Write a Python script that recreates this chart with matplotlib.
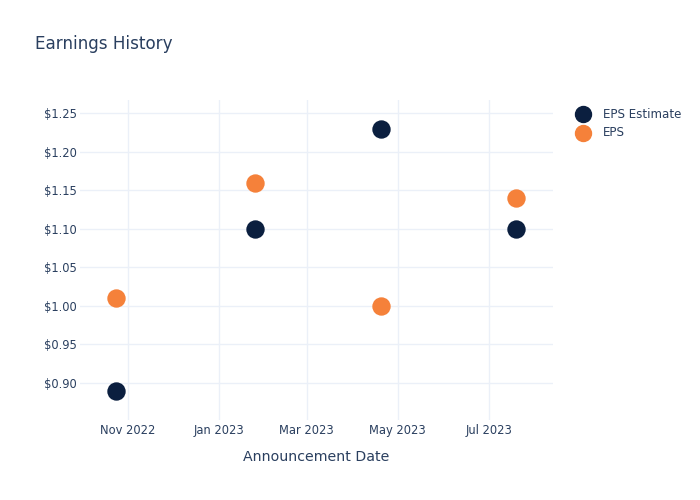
import matplotlib
matplotlib.use("Agg")
import matplotlib.pyplot as plt
import matplotlib.dates as mdates
from matplotlib.lines import Line2D
import datetime as dt

dates = ["2022-10-24", "2023-01-25", "2023-04-20", "2023-07-19"]
eps_estimate = [0.89, 1.10, 1.23, 1.10]
eps_actual = [1.01, 1.16, 1.00, 1.14]
series_names = ["EPS Estimate", "EPS"]
colors = ["#0b1f3f", "#f5813a"]

x = [dt.datetime.strptime(d, "%Y-%m-%d") for d in dates]

plt.rcParams['font.family'] = ['DejaVu Sans']
W, H = 700, 500
fig = plt.figure(figsize=(7, 5), dpi=100)
ax = fig.add_axes([80 / W, 1 - 420 / H, (553 - 80) / W, 320 / H])

text_color = "#2a3f5f"
grid_color = "#ebf0f8"

ax.scatter(x, eps_estimate, s=175, color=colors[0], zorder=3, linewidths=0)
ax.scatter(x, eps_actual, s=175, color=colors[1], zorder=3, linewidths=0)

ax.set_xlim(dt.datetime(2022, 9, 30), dt.datetime(2023, 8, 13))
ax.set_ylim(0.852, 1.267)

ax.xaxis.set_major_locator(mdates.MonthLocator(bymonth=[1, 3, 5, 7, 9, 11]))
ax.xaxis.set_major_formatter(mdates.DateFormatter("%b %Y"))
yt = [0.90, 0.95, 1.00, 1.05, 1.10, 1.15, 1.20, 1.25]
ax.set_yticks(yt)
ax.set_yticklabels([f"${v:.2f}" for v in yt])

for s in ax.spines.values():
    s.set_visible(False)
ax.grid(True, color=grid_color, linewidth=1, zorder=0)
ax.set_axisbelow(True)
ax.tick_params(axis='both', length=0, labelsize=8.3, labelcolor=text_color)
ax.tick_params(axis='x', pad=3)
ax.tick_params(axis='y', pad=2.2)

ax.set_xlabel("Announcement Date", fontsize=10.2, color=text_color, labelpad=9.5)
fig.text(35 / W, 1 - 44 / H, "Earnings History", fontsize=12.1, color=text_color, va='center', ha='left')

# legend
for i, (name, c) in enumerate(zip(series_names, colors)):
    yy = 1 - (114 + 19 * i) / H
    fig.lines.append(Line2D([583 / W], [yy], marker='o', markersize=11.5, color=c,
                            linestyle='none', transform=fig.transFigure))
    fig.text(603 / W, yy, name, fontsize=8.6, color=text_color, va='center', ha='left')

fig.savefig("out.png", dpi=100, facecolor="white")
